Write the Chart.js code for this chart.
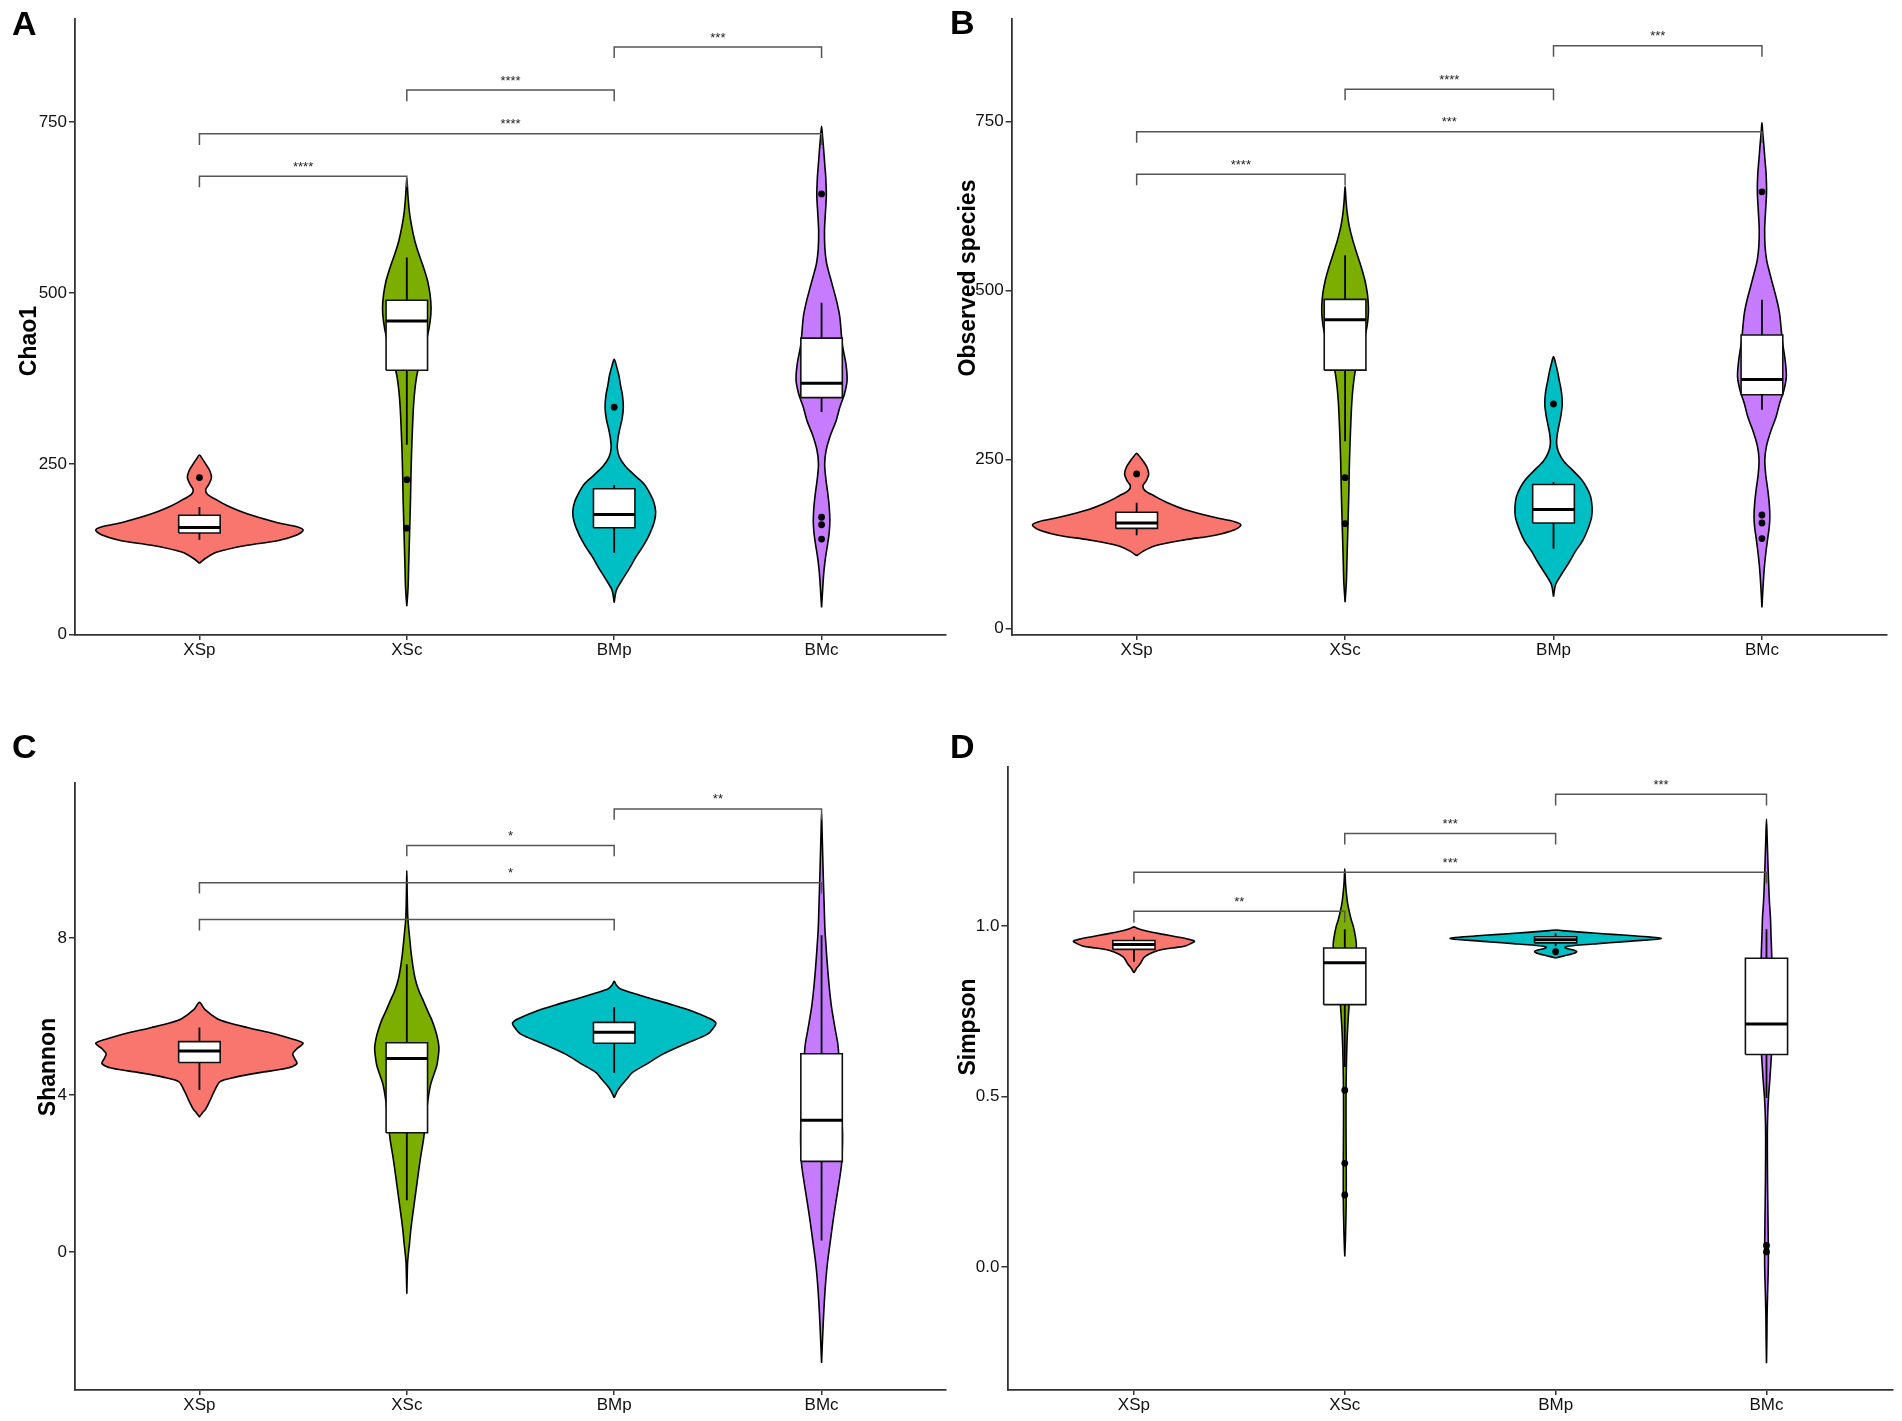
<!DOCTYPE html>
<html><head><meta charset="utf-8">
<script src="https://cdn.jsdelivr.net/npm/chart.js@4.4.1/dist/chart.umd.min.js"></script>
<style>
html,body{margin:0;padding:0;background:#fff;}
body{width:1902px;height:1421px;position:relative;overflow:hidden;}
canvas{position:absolute;}
</style></head><body>
<canvas id="cA" width="950" height="705" style="left:0px;top:0px;width:950px;height:705px"></canvas>
<canvas id="cB" width="962" height="705" style="left:940px;top:0px;width:962px;height:705px"></canvas>
<canvas id="cC" width="950" height="716" style="left:0px;top:705px;width:950px;height:716px"></canvas>
<canvas id="cD" width="962" height="716" style="left:940px;top:705px;width:962px;height:716px"></canvas>
<script>
// ---------------- DATA ----------------
const categories = ['XSp', 'XSc', 'BMp', 'BMc'];
const groupColors = ['#F8766D', '#7CAE00', '#00BFC4', '#C77CFF'];

// Violin profiles: [value, half-width (category units)], bottom to top
// Panel A: Chao1
const chaoTicks = [0, 250, 500, 750];
const chaoViolinXSp = [[104.5,0],[112,0.03],[121,0.085],[131,0.23],[137.6,0.377],[146,0.47],[153,0.5],[158,0.47],[164,0.377],[177,0.23],[188,0.14],[197,0.085],[205,0.04],[212,0.03],[220,0.045],[230,0.058],[240,0.05],[250,0.03],[257,0.015],[263,0]];
const chaoViolinXSc = [[42,0],[68,0.006],[101,0.009],[134,0.012],[167,0.015],[200,0.018],[233,0.02],[267,0.023],[300,0.027],[333,0.032],[356,0.038],[379,0.048],[405,0.068],[438,0.1],[460,0.113],[478,0.117],[498,0.112],[518,0.1],[538,0.08],[557,0.058],[577,0.038],[600,0.022],[620,0.012],[645,0.005],[668,0]];
const chaoViolinBMp = [[47,0],[65,0.01],[81,0.04],[98,0.075],[114,0.105],[130,0.14],[147,0.17],[165,0.193],[180,0.2],[195,0.19],[208,0.17],[220,0.146],[233,0.1],[247,0.053],[260,0.025],[273,0.015],[287,0.018],[300,0.026],[316,0.038],[333,0.044],[350,0.04],[366,0.03],[379,0.023],[392,0.012],[403,0]];
const chaoViolinBMc = [[40,0],[60,0.004],[80,0.008],[95,0.012],[115,0.02],[134,0.03],[150,0.037],[167,0.04],[187,0.037],[207,0.03],[230,0.02],[250,0.015],[270,0.022],[293,0.044],[313,0.07],[333,0.088],[352,0.11],[372,0.123],[395,0.118],[425,0.1],[465,0.088],[485,0.075],[505,0.058],[525,0.04],[544,0.024],[565,0.016],[590,0.014],[615,0.018],[643,0.023],[670,0.02],[690,0.015],[710,0.01],[728,0.005],[744,0]];
// box stats: [whisker low, q1, median, q3, whisker high]
const chaoBox = [[139,149,157,175,187],[278,387,459,489.5,552],[120,156.7,176,213.6,219],[326,347,368,434,486]];
const chaoOutliers = [[230],[227,156],[333],[645,172,161,140]];
// brackets: [group a, group b, height, label]
const chaoBrackets = [[1,2,671,'****'],[1,4,733,'****'],[2,3,797,'****'],[3,4,860,'***']];

// Panel B: Observed species
const obsTicks = [0, 250, 500, 750];
const obsViolinXSp = [[107.6,0],[114,0.03],[122,0.085],[131,0.23],[138,0.377],[146,0.47],[153,0.5],[158,0.47],[164,0.377],[176,0.23],[187,0.14],[196,0.085],[204,0.04],[211,0.03],[218,0.045],[228,0.058],[238,0.05],[248,0.03],[254,0.015],[259,0]];
const obsViolinXSc = [[39,0],[68,0.006],[101,0.009],[134,0.012],[167,0.015],[200,0.018],[233,0.02],[267,0.023],[300,0.027],[333,0.032],[356,0.038],[379,0.048],[405,0.068],[438,0.1],[458,0.11],[475,0.112],[495,0.107],[515,0.095],[535,0.077],[555,0.056],[575,0.036],[595,0.02],[615,0.01],[635,0.004],[654,0]];
const obsViolinBMp = [[47,0],[65,0.01],[81,0.04],[98,0.075],[114,0.105],[130,0.14],[147,0.165],[165,0.183],[180,0.185],[195,0.178],[208,0.16],[220,0.135],[233,0.095],[247,0.05],[260,0.025],[273,0.015],[287,0.018],[300,0.026],[316,0.036],[332,0.042],[350,0.038],[366,0.028],[379,0.02],[392,0.01],[402,0]];
const obsViolinBMc = [[31,0],[55,0.004],[80,0.009],[95,0.013],[115,0.02],[134,0.028],[150,0.035],[165,0.038],[185,0.035],[205,0.028],[228,0.018],[250,0.014],[270,0.022],[293,0.044],[313,0.068],[333,0.085],[352,0.105],[372,0.117],[395,0.112],[425,0.098],[465,0.085],[485,0.072],[505,0.055],[525,0.038],[544,0.023],[565,0.015],[590,0.013],[615,0.017],[645,0.022],[672,0.02],[695,0.014],[715,0.009],[732,0.004],[748,0]];
const obsBox = [[138,148,156,171.8,186],[277,382,456.5,486.6,552],[118,156,176,213,216.6],[323.5,345.6,368,434,486]];
const obsOutliers = [[228.6],[223,155],[332],[645.7,167.8,156,133]];
const obsBrackets = [[1,2,671.7,'****'],[1,4,734.6,'***'],[2,3,797.4,'****'],[3,4,861.6,'***']];

// Panel C: Shannon
const shannonTicks = [0, 4, 8];
const shannonViolinXSp = [[3.44,0],[3.55,0.015],[3.64,0.03],[3.87,0.052],[4.1,0.072],[4.34,0.1],[4.45,0.17],[4.57,0.29],[4.68,0.42],[4.8,0.47],[4.92,0.46],[5.05,0.45],[5.18,0.47],[5.32,0.5],[5.44,0.44],[5.55,0.37],[5.72,0.23],[5.84,0.14],[5.95,0.084],[6.18,0.026],[6.36,0]];
const shannonViolinXSc = [[-1.06,0],[-0.6,0.002],[-0.25,0.004],[0.22,0.013],[0.6,0.02],[0.97,0.029],[1.4,0.04],[1.91,0.053],[2.4,0.066],[2.85,0.08],[3.3,0.09],[3.8,0.1],[4.27,0.115],[4.74,0.144],[5.0,0.152],[5.21,0.155],[5.45,0.148],[5.68,0.136],[5.92,0.12],[6.15,0.1],[6.4,0.08],[6.62,0.061],[6.85,0.046],[7.1,0.035],[7.57,0.022],[8.04,0.013],[8.51,0.005],[9.1,0.002],[9.72,0]];
const shannonViolinBMp = [[3.93,0],[4.1,0.015],[4.22,0.03],[4.4,0.06],[4.57,0.087],[4.8,0.16],[5.03,0.23],[5.32,0.35],[5.55,0.45],[5.72,0.48],[5.84,0.49],[5.95,0.46],[6.13,0.38],[6.3,0.28],[6.42,0.2],[6.55,0.12],[6.7,0.03],[6.8,0.01],[6.9,0]];
const shannonViolinBMc = [[-2.83,0],[-2.3,0.004],[-1.82,0.008],[-1.3,0.013],[-0.82,0.019],[-0.3,0.028],[0.19,0.04],[0.7,0.053],[1.2,0.067],[1.7,0.082],[2.21,0.096],[2.6,0.1],[3.0,0.101],[3.4,0.098],[3.9,0.093],[4.5,0.087],[5.23,0.08],[5.7,0.065],[6.24,0.048],[6.7,0.038],[7.24,0.029],[7.75,0.022],[8.25,0.016],[8.75,0.013],[9.26,0.01],[9.8,0.007],[10.4,0.004],[10.8,0.002],[11.17,0]];
const shannonBox = [[4.13,4.83,5.12,5.36,5.72],[1.32,3.04,4.93,5.33,7.33],[4.57,5.32,5.6,5.85,6.24],[0.29,2.31,3.36,5.05,8.07]];
const shannonOutliers = [[],[],[],[]];
const shannonBrackets = [[1,3,8.47,''],[1,4,9.41,'*'],[2,3,10.36,'*'],[3,4,11.29,'**']];

// Panel D: Simpson
const simpsonTicks = [0, 0.5, 1.0];
const simpsonViolinXSp = [[0.862,0],[0.875,0.012],[0.888,0.029],[0.9,0.04],[0.908,0.05],[0.918,0.075],[0.928,0.115],[0.935,0.18],[0.941,0.244],[0.948,0.27],[0.955,0.287],[0.962,0.25],[0.968,0.2],[0.975,0.14],[0.981,0.086],[0.988,0.04],[0.993,0.015],[0.997,0]];
const simpsonViolinXSc = [[0.031,0],[0.08,0.003],[0.13,0.005],[0.2,0.007],[0.3,0.007],[0.4,0.006],[0.5,0.006],[0.6,0.008],[0.68,0.012],[0.754,0.019],[0.8,0.025],[0.85,0.035],[0.9,0.047],[0.942,0.055],[0.97,0.05],[1.0,0.04],[1.015,0.032],[1.04,0.022],[1.068,0.013],[1.1,0.007],[1.13,0.003],[1.167,0]];
const simpsonViolinBMp = [[0.906,0],[0.912,0.04],[0.918,0.08],[0.924,0.1],[0.929,0.085],[0.934,0.05],[0.938,0.045],[0.943,0.1],[0.948,0.2],[0.953,0.31],[0.958,0.42],[0.963,0.5],[0.967,0.45],[0.971,0.37],[0.975,0.27],[0.979,0.18],[0.983,0.09],[0.986,0.03],[0.988,0]];
const simpsonViolinBMc = [[-0.282,0],[-0.2,0.002],[-0.136,0.003],[-0.06,0.006],[-0.02,0.008],[0.03,0.009],[0.097,0.008],[0.15,0.007],[0.25,0.005],[0.386,0.004],[0.45,0.006],[0.502,0.01],[0.55,0.016],[0.607,0.022],[0.65,0.026],[0.7,0.028],[0.8,0.028],[0.88,0.026],[0.93,0.024],[0.98,0.021],[1.023,0.019],[1.07,0.014],[1.128,0.01],[1.2,0.006],[1.26,0.003],[1.313,0]];
const simpsonBox = [[0.895,0.931,0.945,0.957,0.968],[0.586,0.769,0.892,0.935,0.99],[0.94,0.95,0.959,0.968,0.978],[0.495,0.623,0.712,0.905,0.99]];
const simpsonOutliers = [[],[0.518,0.304,0.211],[0.924],[0.063,0.044]];
const simpsonBrackets = [[1,2,1.043,'**'],[1,4,1.157,'***'],[2,3,1.271,'***'],[3,4,1.386,'***']];

// ---------------- PANELS ----------------
const panels = [
  { id:'cA', letter:'A', title:'Chao1', ticks:chaoTicks, fmt:v=>String(v), yMin:-0.3, yMax:901,
    violins:[chaoViolinXSp,chaoViolinXSc,chaoViolinBMp,chaoViolinBMc], box:chaoBox, outliers:chaoOutliers, brackets:chaoBrackets,
    area:{L:75,T:19,R:946,B:635}, letterPos:[12,35], titlePos:[30,341] },
  { id:'cB', letter:'B', title:'Observed species', ticks:obsTicks, fmt:v=>String(v), yMin:-9.6, yMax:901.2,
    violins:[obsViolinXSp,obsViolinXSc,obsViolinBMp,obsViolinBMc], box:obsBox, outliers:obsOutliers, brackets:obsBrackets,
    area:{L:71.6,T:19,R:947,B:635}, letterPos:[10,34], titlePos:[29,278] },
  { id:'cC', letter:'C', title:'Shannon', ticks:shannonTicks, fmt:v=>String(v), yMin:-3.516, yMax:11.96,
    violins:[shannonViolinXSp,shannonViolinXSc,shannonViolinBMp,shannonViolinBMc], box:shannonBox, outliers:shannonOutliers, brackets:shannonBrackets,
    area:{L:75,T:77.6,R:946,B:685}, letterPos:[12,53], titlePos:[48.5,362] },
  { id:'cD', letter:'D', title:'Simpson', ticks:simpsonTicks, fmt:v=>v.toFixed(1), yMin:-0.3606, yMax:1.4665,
    violins:[simpsonViolinXSp,simpsonViolinXSc,simpsonViolinBMp,simpsonViolinBMc], box:simpsonBox, outliers:simpsonOutliers, brackets:simpsonBrackets,
    area:{L:67.4,T:61.7,R:953,B:685}, letterPos:[10,53], titlePos:[29,322] }
];

const BOX_HALF = 0.1;
const TIP_FRAC = 0.018;
const FONT = '"Liberation Sans", Arial, Helvetica, sans-serif';

function violinPoints(center, profile) {
  const right = profile.map(([y, w]) => ({x: center + w, y}));
  const left = profile.slice().reverse().map(([y, w]) => ({x: center - w, y}));
  return right.concat(left.slice(1));
}

function buildDatasets(p) {
  const ds = [];
  const tip = TIP_FRAC * (p.yMax - p.yMin);
  p.violins.forEach((prof, i) => {
    ds.push({ data: violinPoints(i + 1, prof), fill: 'shape', backgroundColor: groupColors[i],
      borderColor: '#000', borderWidth: 1.6, tension: 0.3, pointRadius: 0, order: 6 });
  });
  p.box.forEach(([wlo, q1, med, q3, whi], i) => {
    const c = i + 1;
    ds.push({ data: [{x:c,y:wlo},{x:c,y:q1},{x:c,y:null},{x:c,y:q3},{x:c,y:whi}], spanGaps: false,
      fill: false, borderColor: '#000', borderWidth: 1.8, tension: 0, pointRadius: 0, order: 5 });
    ds.push({ data: [{x:c-BOX_HALF,y:q1},{x:c+BOX_HALF,y:q1},{x:c+BOX_HALF,y:q3},{x:c-BOX_HALF,y:q3},{x:c-BOX_HALF,y:q1}],
      fill: 'shape', backgroundColor: '#fff', borderColor: '#111', borderWidth: 1.6, borderJoinStyle: 'miter',
      tension: 0, pointRadius: 0, order: 4 });
    ds.push({ data: [{x:c-BOX_HALF,y:med},{x:c+BOX_HALF,y:med}], fill: false, borderColor: '#000',
      borderWidth: 3, borderCapStyle: 'butt', tension: 0, pointRadius: 0, order: 3 });
  });
  p.outliers.forEach((vals, i) => {
    if (!vals.length) return;
    ds.push({ data: vals.map(v => ({x: i + 1, y: v})), showLine: false, pointRadius: 3.4,
      pointBackgroundColor: '#000', pointBorderWidth: 0, pointBorderColor: '#000', order: 2 });
  });
  p.brackets.forEach(([a, b, h]) => {
    ds.push({ data: [{x:a,y:h-tip},{x:a,y:h},{x:b,y:h},{x:b,y:h-tip}], fill: false,
      borderColor: '#555', borderWidth: 1.5, tension: 0, pointRadius: 0, order: 1 });
  });
  return ds;
}

function makeChart(p) {
  const cv = document.getElementById(p.id);
  const W = cv.width, H = cv.height;
  const labelPlugin = {
    id: 'labels_' + p.id,
    afterDatasetsDraw(chart) {
      const ctx = chart.ctx, xs = chart.scales.x, ys = chart.scales.y;
      ctx.save();
      ctx.fillStyle = '#222';
      ctx.font = '13px ' + FONT;
      ctx.textAlign = 'center';
      ctx.textBaseline = 'alphabetic';
      p.brackets.forEach(([a, b, h, lab]) => {
        if (!lab) return;
        ctx.fillText(lab, xs.getPixelForValue((a + b) / 2), ys.getPixelForValue(h) - 5.5);
      });
      ctx.restore();
    },
    afterDraw(chart) {
      const ctx = chart.ctx;
      ctx.save();
      ctx.fillStyle = '#000';
      ctx.font = 'bold 34px ' + FONT;
      ctx.textAlign = 'left';
      ctx.textBaseline = 'alphabetic';
      ctx.fillText(p.letter, p.letterPos[0], p.letterPos[1]);
      ctx.translate(p.titlePos[0], p.titlePos[1]);
      ctx.rotate(-Math.PI / 2);
      ctx.font = 'bold 23px ' + FONT;
      ctx.textAlign = 'center';
      ctx.textBaseline = 'middle';
      ctx.fillText(p.title, 0, 0);
      ctx.restore();
    }
  };
  return new Chart(cv, {
    type: 'line',
    data: { datasets: buildDatasets(p) },
    options: {
      responsive: false, animation: false, devicePixelRatio: 1,
      layout: { padding: { left: 0, top: p.area.T, right: W - p.area.R, bottom: 0 } },
      plugins: { legend: { display: false }, tooltip: { enabled: false } },
      elements: { point: { radius: 0, hoverRadius: 0 } },
      events: [],
      scales: {
        x: {
          type: 'linear', min: 0.4, max: 4.6,
          afterFit: s => { s.height = H - p.area.B; },
          afterBuildTicks: s => { s.ticks = categories.map((c, i) => ({ value: i + 1 })); },
          ticks: { autoSkip: false, maxRotation: 0, padding: 0, color: '#111',
            font: { family: FONT, size: 17 }, callback: v => categories[Math.round(v) - 1] },
          grid: { display: true, drawOnChartArea: false, drawTicks: true, tickLength: 5, color: '#333', lineWidth: 1.5 },
          border: { display: true, color: '#333', width: 1.8 }
        },
        y: {
          type: 'linear', min: p.yMin, max: p.yMax,
          afterFit: s => { s.width = p.area.L; },
          afterBuildTicks: s => { s.ticks = p.ticks.map(v => ({ value: v })); },
          ticks: { autoSkip: false, padding: 2, color: '#111',
            font: { family: FONT, size: 17 }, callback: v => p.fmt(v) },
          grid: { display: true, drawOnChartArea: false, drawTicks: true, tickLength: 6, color: '#333', lineWidth: 1.5 },
          border: { display: true, color: '#333', width: 1.8 }
        }
      }
    },
    plugins: [labelPlugin]
  });
}

panels.forEach(makeChart);
</script>
</body></html>
